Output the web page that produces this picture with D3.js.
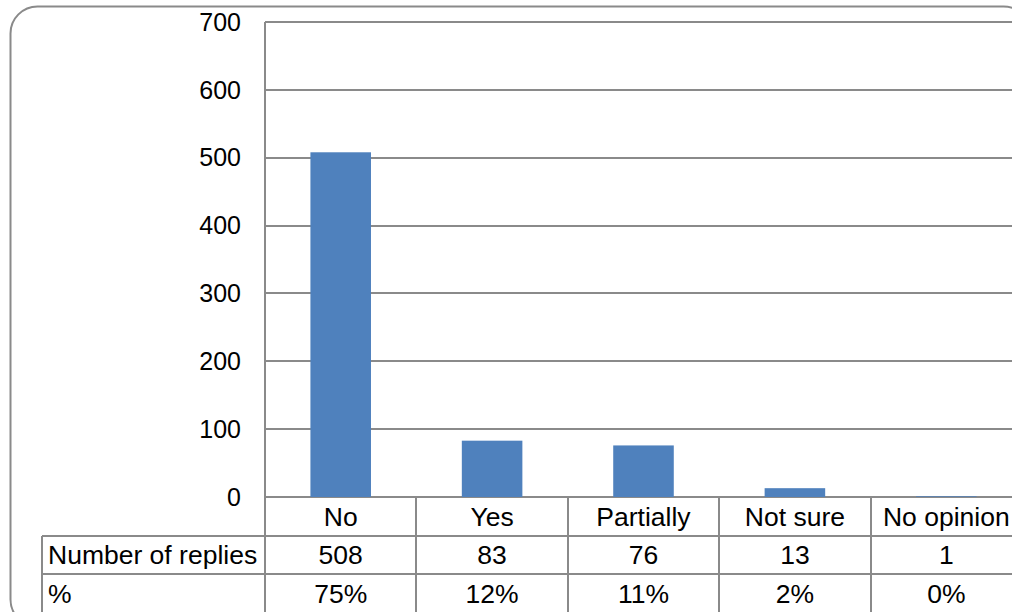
<!DOCTYPE html>
<html lang="en">
<head>
  <meta charset="UTF-8">
  <title>Number of replies</title>
  <script src="https://d3js.org/d3.v7.min.js"></script>
  <style>
    body { margin: 0; background: #fff; font-family: "Liberation Sans", Arial, sans-serif; }
    .grid line, .tbl line { stroke: #8a8a8a; stroke-width: 2; shape-rendering: crispEdges; }
  </style>
</head>
<body>
  <svg width="1012" height="612"></svg>
  <script>
    // chart data
    const categories = ["No", "Yes", "Partially", "Not sure", "No opinion"];
    const replies = [508, 83, 76, 13, 1];
    const percents = ["75%", "12%", "11%", "2%", "0%"];
    const yTicks = [0, 100, 200, 300, 400, 500, 600, 700];
    const rowLabels = ["Number of replies", "%"];

    const W = 1012, H = 612;
    const plot = { left: 265, right: 1022, top: 22, bottom: 497 };
    const rowH = 38.5;
    const tableLeft = 42;

    const svg = d3.select("svg");

    // outer frame of the chart object (runs off the right and bottom edges)
    svg.append("rect")
      .attr("x", 10.5).attr("y", 6.5)
      .attr("width", 1020).attr("height", 620)
      .attr("rx", 27).attr("ry", 27)
      .attr("fill", "none").attr("stroke", "#8a8a8a").attr("stroke-width", 2);

    const x = d3.scaleBand().domain(categories).range([plot.left, plot.right]);
    const y = d3.scaleLinear().domain([0, 700]).range([plot.bottom, plot.top]);

    // gridlines
    const grid = svg.append("g").attr("class", "grid");
    grid.selectAll("line.h")
      .data(yTicks)
      .enter().append("line")
      .attr("class", "h")
      .attr("x1", plot.left).attr("x2", plot.right)
      .attr("y1", d => y(d)).attr("y2", d => y(d));
    grid.append("line")
      .attr("x1", plot.left).attr("x2", plot.left)
      .attr("y1", plot.top).attr("y2", H);

    // tick labels
    svg.append("g")
      .selectAll("text")
      .data(yTicks)
      .enter().append("text")
      .attr("x", 241)
      .attr("y", d => y(d))
      .attr("dy", "0.35em")
      .attr("text-anchor", "end")
      .attr("font-size", 25)
      .text(d => d);

    // bars
    const barW = x.bandwidth() * 0.4;
    svg.append("g")
      .selectAll("rect")
      .data(categories)
      .enter().append("rect")
      .attr("x", d => x(d) + (x.bandwidth() - barW) / 2)
      .attr("width", barW)
      .attr("y", (d, i) => y(replies[i]))
      .attr("height", (d, i) => y(0) - y(replies[i]))
      .attr("fill", "#4f81bd");

    // data table under the axis
    const tbl = svg.append("g").attr("class", "tbl");
    const r1 = plot.bottom, r2 = r1 + rowH, r3 = r2 + rowH;

    [r2, r3].forEach(yy => {
      tbl.append("line")
        .attr("x1", tableLeft).attr("x2", plot.right)
        .attr("y1", yy).attr("y2", yy);
    });
    tbl.append("line")
      .attr("x1", tableLeft).attr("x2", tableLeft)
      .attr("y1", r2).attr("y2", H);
    tbl.selectAll("line.v")
      .data(categories.slice(1))
      .enter().append("line")
      .attr("class", "v")
      .attr("x1", d => x(d)).attr("x2", d => x(d))
      .attr("y1", r1).attr("y2", H);

    const cellText = (rows, yy) => {
      tbl.append("g")
        .selectAll("text")
        .data(categories)
        .enter().append("text")
        .attr("x", d => x(d) + x.bandwidth() / 2)
        .attr("y", yy + rowH / 2)
        .attr("dy", "0.35em")
        .attr("text-anchor", "middle")
        .attr("font-size", 26.5)
        .text((d, i) => rows[i]);
    };
    cellText(categories, r1);
    cellText(replies, r2);
    cellText(percents, r3);

    tbl.append("g")
      .selectAll("text")
      .data(rowLabels)
      .enter().append("text")
      .attr("x", tableLeft + 6)
      .attr("y", (d, i) => r2 + i * rowH + rowH / 2)
      .attr("dy", "0.35em")
      .attr("font-size", 26.5)
      .text(d => d);
  </script>
</body>
</html>
